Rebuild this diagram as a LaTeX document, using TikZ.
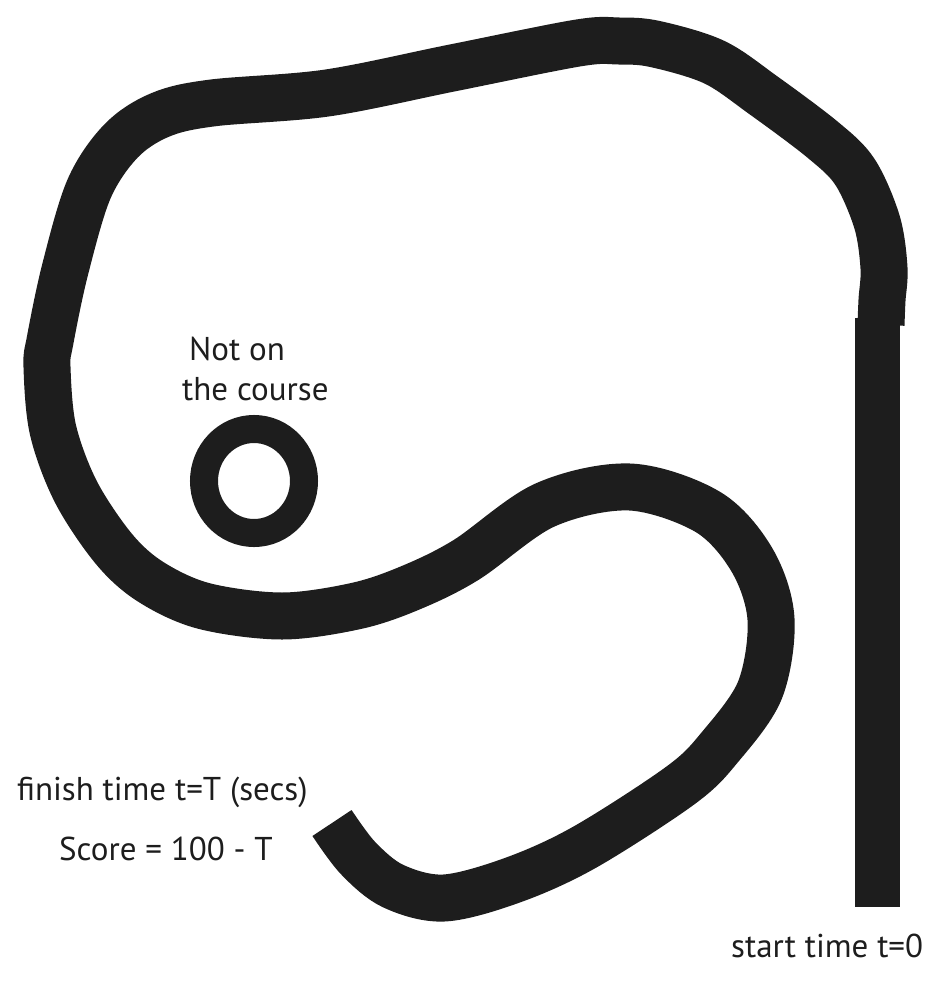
\documentclass[tikz,border=0pt]{standalone}
\usepackage{fontspec}
\setmainfont{PT Sans}
\definecolor{trk}{RGB}{29,29,29}
\begin{document}
\begin{tikzpicture}[x=1pt,y=-1pt,
  track/.style={draw=trk, line width=47pt, line cap=butt, line join=round},
  ring/.style={draw=trk, line width=28pt},
  lbl/.style={font=\fontsize{33}{38}\selectfont, text=trk, inner sep=0pt, anchor=base west}]
\useasboundingbox (0,0) rectangle (936,988);
\fill[trk] (855,318) rectangle (900,907);
\draw[track] plot[smooth, tension=0.55] coordinates {(881,325) (882,300) (884,268) (877,222) (855,172) (823,140) (763,95) (714,62) (655,44) (619,41) (578,43) (452,68) (327,93) (212,103) (160,115) (121,141) (89,189) (65,270) (50,341) (47,367) (53,430) (76,492) (114,549) (151,582) (204,606) (282,616) (356,606) (410,588) (466,560) (545,505) (630,487) (708,512) (752,560) (771,619) (760,690) (720,747) (681,785) (585,847) (513,880) (444,898) (393,886) (358,858) (332,823)};
\draw[ring] (254,481) ellipse [x radius=50, y radius=52];
\node[lbl] (t1) at (189,360) {Not on};
\node[lbl] (t2) at (182,400) {the course};
\node[lbl] (t3) at (17,800) {finish time t=T (secs)};
\node[lbl] (t4) at (59,860) {Score = 100 - T};
\node[lbl] (t5) at (731,957) {start time t=0};
\end{tikzpicture}
\end{document}
